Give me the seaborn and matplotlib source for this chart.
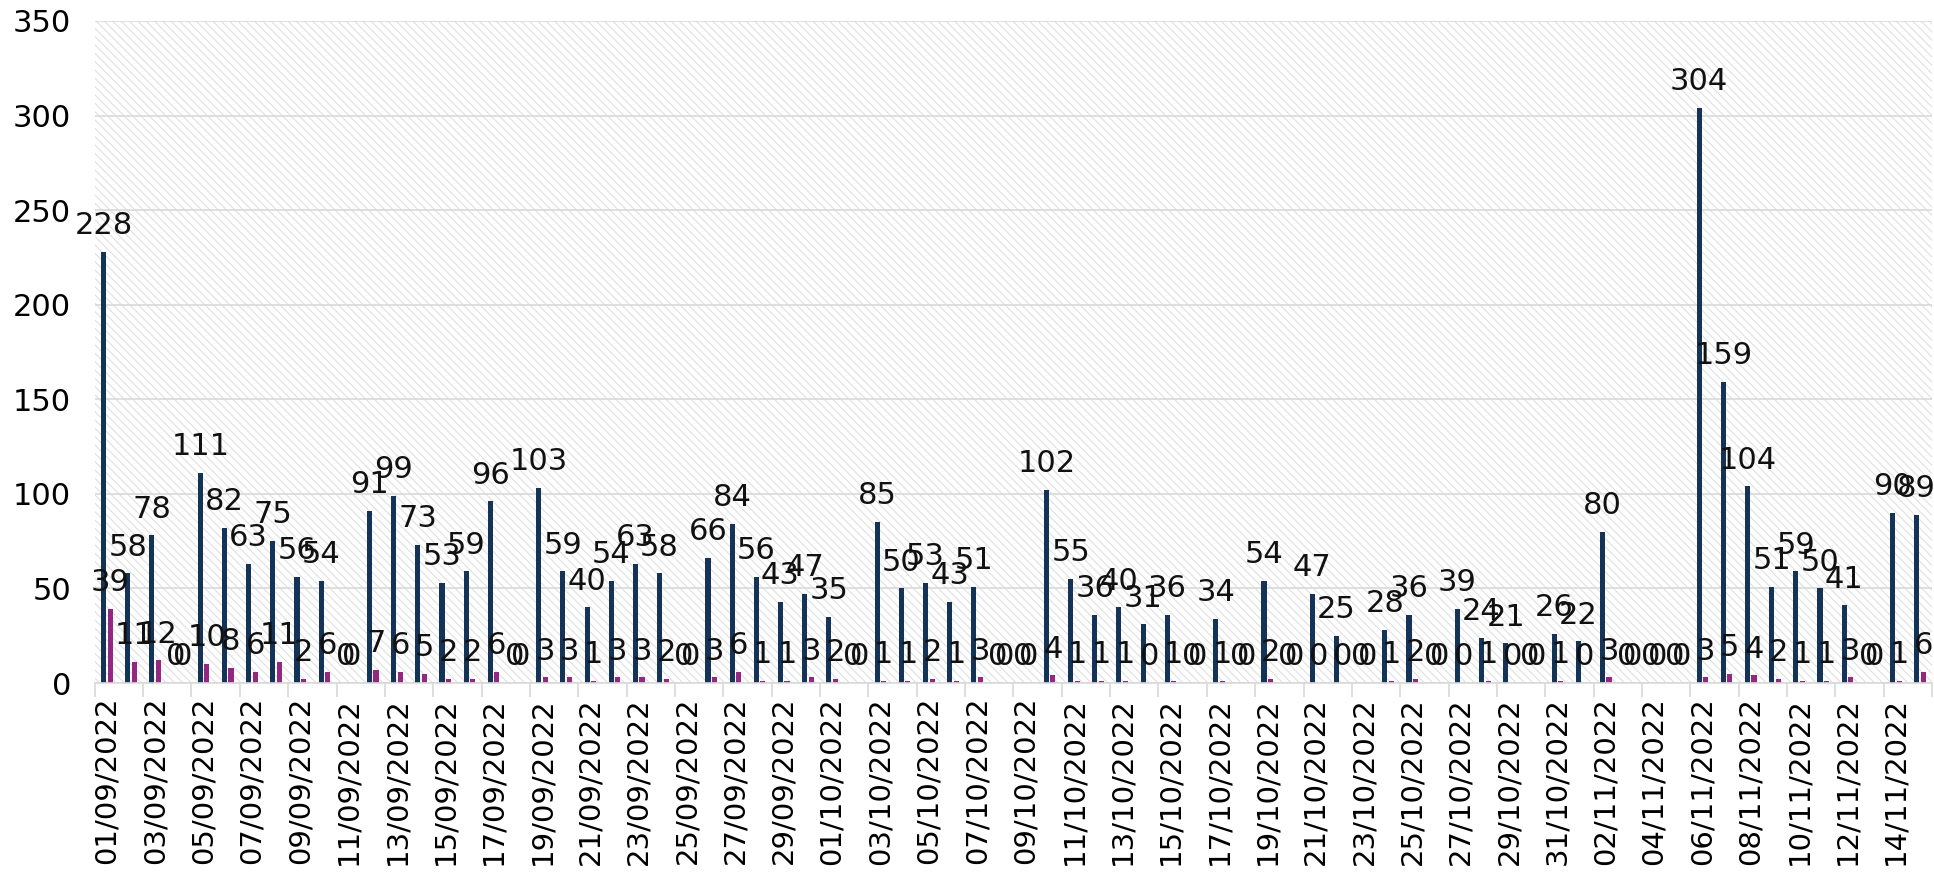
import pandas as pd
import matplotlib
matplotlib.use("Agg")
import matplotlib.pyplot as plt
import seaborn as sns
from matplotlib.patches import Rectangle

# daily values, 01/09/2022 - 15/11/2022
dates = pd.date_range("2022-09-01", "2022-11-15", freq="D").strftime("%d/%m/%Y").tolist()

serie_a = [228, 58, 78, 0, 111, 82, 63, 75, 56, 54,
           0, 91, 99, 73, 53, 59, 96, 0, 103, 59,
           40, 54, 63, 58, 0, 66, 84, 56, 43, 47,
           35, 0, 85, 50, 53, 43, 51, 0, 0, 102,
           55, 36, 40, 31, 36, 0, 34, 0, 54, 0,
           47, 25, 0, 28, 36, 0, 39, 24, 21, 0,
           26, 22, 80, 0, 0, 0, 304, 159, 104, 51,
           59, 50, 41, 0, 90, 89]

serie_b = [39, 11, 12, 0, 10, 8, 6, 11, 2, 6,
           0, 7, 6, 5, 2, 2, 6, 0, 3, 3,
           1, 3, 3, 2, 0, 3, 6, 1, 1, 3,
           2, 0, 1, 1, 2, 1, 3, 0, 0, 4,
           1, 1, 1, 0, 1, 0, 1, 0, 2, 0,
           0, 0, 0, 1, 2, 0, 0, 1, 0, 0,
           1, 0, 3, 0, 0, 0, 3, 5, 4, 2,
           1, 1, 3, 0, 1, 6]

series_names = ["A", "B"]
colors = ["#0a3262", "#a3168e"]
FS = 22

df = pd.DataFrame({
    "fecha": dates * 2,
    "valor": serie_a + serie_b,
    "serie": [series_names[0]] * len(dates) + [series_names[1]] * len(dates),
})

plt.rcParams["font.family"] = ["DejaVu Sans"]
plt.rcParams["hatch.linewidth"] = 0.7
plt.rcParams["hatch.color"] = "#dcdcdc"

fig = plt.figure(figsize=(19.34, 8.74), dpi=100)
ax = fig.add_axes([0.049, 0.2185, 0.95, 0.7575])
ax.set_facecolor("white")

# hatched plot background
ax.add_patch(Rectangle((0, 0), 1, 1, transform=ax.transAxes, facecolor="white",
                       edgecolor="#dcdcdc", hatch="\\\\\\\\", linewidth=0, zorder=0.1))

sns.barplot(data=df, x="fecha", y="valor", hue="serie", palette=colors,
            width=0.54, gap=0.22, errorbar=None, legend=False, ax=ax, zorder=2)

for cont, vals in zip(ax.containers, [serie_a, serie_b]):
    ax.bar_label(cont, labels=[str(v) for v in vals], padding=8.5,
                 fontsize=FS, color="#111111")

ax.set_ylim(0, 350)
ax.set_xlim(-0.5, len(dates) - 0.5)
ax.set_yticks(range(0, 351, 50))
ax.yaxis.grid(True, color="#d9d9d9", linewidth=1.2)
ax.set_axisbelow(True)

ax.set_xticks(range(0, len(dates), 2))
ax.set_xticklabels(dates[::2], rotation=90, fontsize=21)
ax.set_xticks([x - 0.5 for x in range(0, len(dates) + 1, 2)], minor=True)
ax.tick_params(axis="x", which="major", length=0, pad=10)
ax.tick_params(axis="x", which="minor", length=10, width=1.2, color="#d9d9d9")
ax.tick_params(axis="y", length=0, pad=17, labelsize=FS)

for s in ["top", "right", "left"]:
    ax.spines[s].set_visible(False)
ax.spines["bottom"].set_color("#d9d9d9")
ax.spines["bottom"].set_linewidth(1.2)
ax.set_xlabel("")
ax.set_ylabel("")

fig.savefig("out.png", dpi=100)
plt.close(fig)
